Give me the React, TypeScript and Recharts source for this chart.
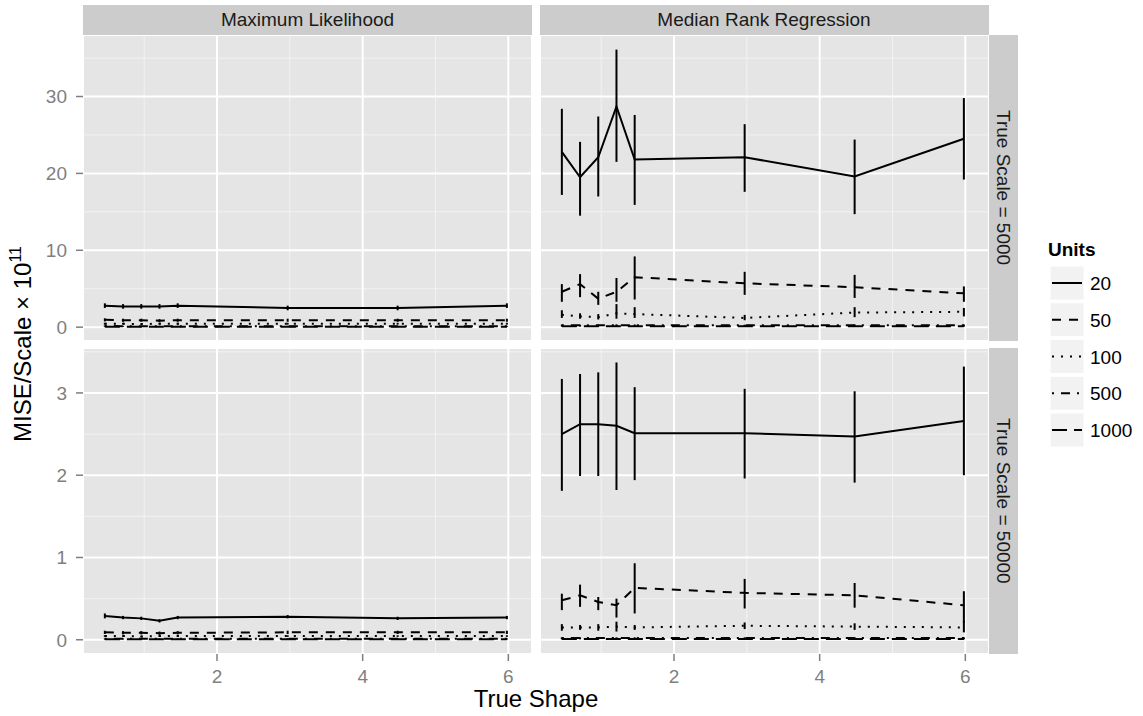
import { CartesianGrid, ErrorBar, Line, LineChart, XAxis, YAxis } from 'recharts';

// true shape values where the simulations were run
const SHAPES = [0.46, 0.71, 0.96, 1.21, 1.46, 2.97, 4.48, 5.98];
const UNITS = ['20', '50', '100', '500', '1000'];

const X_TICKS = [2, 4, 6];
const X_MINOR = [1, 3, 5];
const TOP_Y_TICKS = [0, 10, 20, 30];
const TOP_Y_MINOR = [5, 15, 25, 35];
const BOT_Y_TICKS = [0, 1, 2, 3];
const BOT_Y_MINOR = [0.5, 1.5, 2.5, 3.5];

// MISE / Scale x 1e11, one row per Units value (20, 50, 100, 500, 1000)
// Maximum Likelihood, True Scale = 5000
const ML_5000_MEAN = [
    [2.8, 2.7, 2.7, 2.7, 2.8, 2.5, 2.5, 2.8],
    [0.95, 0.9, 0.9, 0.85, 0.9, 0.9, 0.9, 0.9],
    [0.45, 0.45, 0.4, 0.45, 0.45, 0.45, 0.45, 0.45],
    [0.15, 0.12, 0.12, 0.12, 0.12, 0.12, 0.12, 0.12],
    [0.06, 0.06, 0.06, 0.05, 0.06, 0.06, 0.06, 0.06],
];
const ML_5000_LOW = [
    [2.5, 2.4, 2.4, 2.4, 2.5, 2.2, 2.2, 2.5],
    [0.75, 0.7, 0.7, 0.65, 0.7, 0.7, 0.7, 0.7],
    [0.32, 0.33, 0.3, 0.33, 0.33, 0.33, 0.33, 0.33],
    [0.08, 0.07, 0.07, 0.07, 0.07, 0.07, 0.07, 0.07],
    [0.03, 0.03, 0.03, 0.02, 0.03, 0.03, 0.03, 0.03],
];
const ML_5000_HIGH = [
    [3.1, 3.0, 3.0, 3.0, 3.1, 2.8, 2.8, 3.1],
    [1.15, 1.1, 1.1, 1.05, 1.1, 1.1, 1.1, 1.1],
    [0.58, 0.57, 0.5, 0.57, 0.57, 0.57, 0.57, 0.57],
    [0.22, 0.17, 0.17, 0.17, 0.17, 0.17, 0.17, 0.17],
    [0.09, 0.09, 0.09, 0.08, 0.09, 0.09, 0.09, 0.09],
];

// Median Rank Regression, True Scale = 5000
const MRR_5000_MEAN = [
    [22.8, 19.5, 22.1, 28.7, 21.8, 22.1, 19.6, 24.5],
    [4.6, 5.6, 3.7, 4.6, 6.5, 5.7, 5.2, 4.4],
    [1.6, 1.4, 1.3, 1.8, 1.7, 1.2, 1.9, 2.0],
    [0.25, 0.24, 0.25, 0.26, 0.25, 0.24, 0.25, 0.25],
    [0.12, 0.12, 0.12, 0.13, 0.12, 0.12, 0.12, 0.12],
];
const MRR_5000_LOW = [
    [17.2, 14.5, 17.0, 21.5, 15.9, 17.6, 14.7, 19.2],
    [3.3, 3.9, 2.9, 3.3, 3.6, 4.2, 3.8, 3.3],
    [1.2, 1.1, 1.0, 1.1, 1.2, 0.9, 1.3, 1.4],
    [0.15, 0.15, 0.16, 0.15, 0.15, 0.16, 0.15, 0.15],
    [0.07, 0.07, 0.07, 0.08, 0.07, 0.07, 0.07, 0.07],
];
const MRR_5000_HIGH = [
    [28.4, 24.1, 27.4, 36.1, 27.6, 26.4, 24.4, 29.8],
    [5.6, 6.9, 4.6, 6.4, 9.2, 7.2, 6.8, 5.3],
    [2.2, 1.8, 1.7, 3.0, 2.6, 1.6, 2.6, 2.5],
    [0.35, 0.33, 0.34, 0.37, 0.35, 0.32, 0.35, 0.35],
    [0.17, 0.17, 0.17, 0.18, 0.17, 0.17, 0.17, 0.17],
];

// Maximum Likelihood, True Scale = 50000
const ML_50000_MEAN = [
    [0.29, 0.27, 0.26, 0.23, 0.27, 0.28, 0.26, 0.27],
    [0.09, 0.085, 0.085, 0.08, 0.085, 0.09, 0.09, 0.09],
    [0.045, 0.045, 0.04, 0.045, 0.045, 0.045, 0.045, 0.045],
    [0.012, 0.012, 0.012, 0.012, 0.012, 0.012, 0.012, 0.012],
    [0.006, 0.006, 0.006, 0.006, 0.006, 0.006, 0.006, 0.006],
];
const ML_50000_LOW = [
    [0.26, 0.25, 0.24, 0.21, 0.25, 0.26, 0.24, 0.25],
    [0.07, 0.065, 0.065, 0.06, 0.065, 0.07, 0.07, 0.07],
    [0.035, 0.035, 0.03, 0.035, 0.035, 0.035, 0.035, 0.035],
    [0.007, 0.007, 0.007, 0.007, 0.007, 0.007, 0.007, 0.007],
    [0.003, 0.003, 0.003, 0.003, 0.003, 0.003, 0.003, 0.003],
];
const ML_50000_HIGH = [
    [0.32, 0.29, 0.28, 0.25, 0.29, 0.3, 0.28, 0.29],
    [0.11, 0.105, 0.105, 0.1, 0.105, 0.11, 0.11, 0.11],
    [0.055, 0.055, 0.05, 0.055, 0.055, 0.055, 0.055, 0.055],
    [0.017, 0.017, 0.017, 0.017, 0.017, 0.017, 0.017, 0.017],
    [0.009, 0.009, 0.009, 0.009, 0.009, 0.009, 0.009, 0.009],
];

// Median Rank Regression, True Scale = 50000
const MRR_50000_MEAN = [
    [2.5, 2.62, 2.62, 2.6, 2.51, 2.51, 2.47, 2.66],
    [0.48, 0.54, 0.46, 0.42, 0.63, 0.57, 0.54, 0.42],
    [0.15, 0.15, 0.15, 0.16, 0.15, 0.17, 0.16, 0.15],
    [0.02, 0.02, 0.02, 0.02, 0.02, 0.02, 0.02, 0.02],
    [0.01, 0.01, 0.01, 0.01, 0.01, 0.01, 0.01, 0.01],
];
const MRR_50000_LOW = [
    [1.81, 1.99, 1.99, 1.82, 1.94, 1.96, 1.91, 2.0],
    [0.36, 0.4, 0.36, 0.27, 0.32, 0.38, 0.39, 0.21],
    [0.11, 0.12, 0.11, 0.1, 0.12, 0.13, 0.12, 0.09],
    [0.01, 0.01, 0.01, 0.01, 0.01, 0.01, 0.01, 0.01],
    [0.005, 0.005, 0.005, 0.005, 0.005, 0.005, 0.005, 0.005],
];
const MRR_50000_HIGH = [
    [3.17, 3.23, 3.25, 3.37, 3.07, 3.05, 3.02, 3.32],
    [0.56, 0.67, 0.52, 0.5, 0.93, 0.74, 0.69, 0.59],
    [0.19, 0.18, 0.19, 0.22, 0.18, 0.21, 0.2, 0.23],
    [0.03, 0.03, 0.03, 0.03, 0.03, 0.03, 0.03, 0.03],
    [0.015, 0.015, 0.015, 0.015, 0.015, 0.015, 0.015, 0.015],
];

// linetypes: solid, dashed, dotted, dotdash, longdash
const DASHES = [undefined, '9 8', '2 7', '2 7 9 7', '15 7'];

const FONT = '"Liberation Sans", Arial, Helvetica, sans-serif';
const PANEL_W = 449;
const PANEL_H = 306;
const Y_AXIS_W = 83;
const X_AXIS_H = 45;
const RIGHT_X = 539.5;
const TOP_Y = 34.5;
const BOTTOM_Y = 347.5;
const X_DOMAIN = [0.16, 6.325];
const TOP_DOMAIN = [-1.8, 38.0];
const BOT_DOMAIN = [-0.173, 3.546];

const tickStyle = { fontSize: 19, fill: '#7F7F7F', fontFamily: FONT };

function buildRows(mean: number[][], low: number[][], high: number[][]) {
    return SHAPES.map((x, i) => {
        const row: Record<string, unknown> = { x };
        UNITS.forEach((u, k) => {
            row[`u${u}`] = mean[k][i];
            row[`e${u}`] = [mean[k][i] - low[k][i], high[k][i] - mean[k][i]];
        });
        return row;
    });
}

interface PanelProps {
    mean: number[][];
    low: number[][];
    high: number[][];
    yDomain: number[];
    yTicks: number[];
    yMinor: number[];
    showY: boolean;
    showX: boolean;
    left: number;
    top: number;
}

function Panel({ mean, low, high, yDomain, yTicks, yMinor, showY, showX, left, top }: PanelProps) {
    const rows = buildRows(mean, low, high);
    return (
        <div style={{ position: 'absolute', left, top }}>
            <LineChart
                width={PANEL_W + (showY ? Y_AXIS_W : 0)}
                height={PANEL_H + (showX ? X_AXIS_H : 0)}
                data={rows}
                margin={{ top: 0, right: 0, bottom: 0, left: 0 }}
            >
                <CartesianGrid fill="#E5E5E5" stroke="#F2F2F2" strokeWidth={1} horizontalValues={yMinor} verticalValues={X_MINOR} />
                <CartesianGrid stroke="#FFFFFF" strokeWidth={2} />
                <XAxis
                    type="number"
                    dataKey="x"
                    domain={X_DOMAIN}
                    allowDataOverflow
                    ticks={X_TICKS}
                    interval={0}
                    hide={!showX}
                    height={X_AXIS_H}
                    axisLine={false}
                    tickLine={{ stroke: '#7F7F7F', strokeWidth: 1.5 }}
                    tickSize={7}
                    tickMargin={9}
                    tick={tickStyle}
                />
                <YAxis
                    type="number"
                    domain={yDomain}
                    allowDataOverflow
                    ticks={yTicks}
                    interval={0}
                    hide={!showY}
                    width={Y_AXIS_W}
                    axisLine={false}
                    tickLine={{ stroke: '#7F7F7F', strokeWidth: 1.5 }}
                    tickSize={7}
                    tickMargin={9}
                    tick={tickStyle}
                />
                {UNITS.map((u, k) => (
                    <Line
                        key={u}
                        type="linear"
                        dataKey={`u${u}`}
                        stroke="#000000"
                        strokeWidth={2}
                        strokeDasharray={DASHES[k]}
                        dot={false}
                        activeDot={false}
                        isAnimationActive={false}
                    >
                        <ErrorBar dataKey={`e${u}`} width={0} stroke="#000000" strokeWidth={2} direction="y" isAnimationActive={false} />
                    </Line>
                ))}
            </LineChart>
        </div>
    );
}

function Legend() {
    return (
        <svg width={110} height={260} style={{ position: 'absolute', left: 1033, top: 220 }}>
            <text x={15} y={36} fontFamily={FONT} fontSize={19} fontWeight="bold">
                Units
            </text>
            {UNITS.map((u, k) => {
                const cy = 63 + k * 36.75;
                return (
                    <g key={u}>
                        <rect x={17} y={cy - 17} width={34} height={34} fill="#F2F2F2" stroke="#FFFFFF" />
                        <line x1={19} x2={49} y1={cy} y2={cy} stroke="#000000" strokeWidth={2} strokeDasharray={DASHES[k]} />
                        <text x={57} y={cy + 7} fontFamily={FONT} fontSize={19}>
                            {u}
                        </text>
                    </g>
                );
            })}
        </svg>
    );
}

const stripTop = {
    position: 'absolute' as const,
    top: 5,
    width: PANEL_W,
    height: TOP_Y - 5,
    background: '#CCCCCC',
    color: '#1A1A1A',
    fontFamily: FONT,
    fontSize: 19,
    display: 'flex',
    alignItems: 'center',
    justifyContent: 'center',
};

const stripRight = {
    position: 'absolute' as const,
    left: RIGHT_X + PANEL_W,
    width: TOP_Y - 5,
    height: PANEL_H,
    background: '#CCCCCC',
    color: '#1A1A1A',
    fontFamily: FONT,
    fontSize: 19,
    display: 'flex',
    alignItems: 'center',
    justifyContent: 'center',
    writingMode: 'vertical-rl' as const,
};

export default function App() {
    return (
        <div style={{ position: 'absolute', left: 0, top: 0, width: 1143, height: 716, background: '#FFFFFF', overflow: 'hidden' }}>
            <div style={{ ...stripTop, left: Y_AXIS_W }}>Maximum Likelihood</div>
            <div style={{ ...stripTop, left: RIGHT_X }}>Median Rank Regression</div>
            <div style={{ ...stripRight, top: TOP_Y }}>True Scale = 5000</div>
            <div style={{ ...stripRight, top: BOTTOM_Y }}>True Scale = 50000</div>

            <Panel mean={ML_5000_MEAN} low={ML_5000_LOW} high={ML_5000_HIGH} yDomain={TOP_DOMAIN} yTicks={TOP_Y_TICKS} yMinor={TOP_Y_MINOR} showY showX={false} left={0} top={TOP_Y} />
            <Panel mean={MRR_5000_MEAN} low={MRR_5000_LOW} high={MRR_5000_HIGH} yDomain={TOP_DOMAIN} yTicks={TOP_Y_TICKS} yMinor={TOP_Y_MINOR} showY={false} showX={false} left={RIGHT_X} top={TOP_Y} />
            <Panel mean={ML_50000_MEAN} low={ML_50000_LOW} high={ML_50000_HIGH} yDomain={BOT_DOMAIN} yTicks={BOT_Y_TICKS} yMinor={BOT_Y_MINOR} showY showX left={0} top={BOTTOM_Y} />
            <Panel mean={MRR_50000_MEAN} low={MRR_50000_LOW} high={MRR_50000_HIGH} yDomain={BOT_DOMAIN} yTicks={BOT_Y_TICKS} yMinor={BOT_Y_MINOR} showY={false} showX left={RIGHT_X} top={BOTTOM_Y} />

            <svg width={1143} height={716} style={{ position: 'absolute', left: 0, top: 0, pointerEvents: 'none' }}>
                <text x={536} y={707} textAnchor="middle" fontFamily={FONT} fontSize={24}>
                    True Shape
                </text>
                <text transform="translate(31, 344) rotate(-90)" textAnchor="middle" fontFamily={FONT} fontSize={24}>
                    MISE/Scale × 10
                    <tspan dy={-10} fontSize={16}>
                        11
                    </tspan>
                </text>
            </svg>
            <Legend />
        </div>
    );
}
